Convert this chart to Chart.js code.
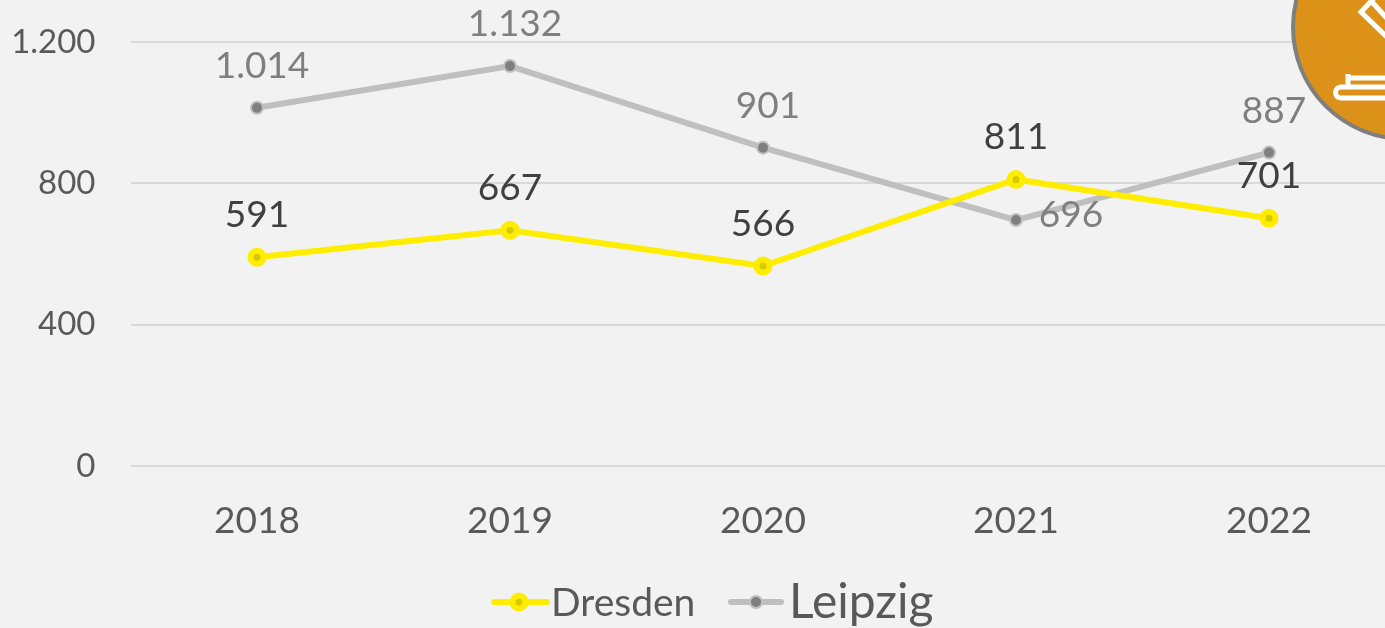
<!DOCTYPE html>
<html><head><meta charset="utf-8">
<script src="https://cdn.jsdelivr.net/npm/chart.js@4/dist/chart.umd.min.js"></script>
<style>
html,body{margin:0;padding:0;width:1385px;height:628px;overflow:hidden;background:#f2f2f2}
#wrap{position:absolute;left:0;top:0;width:1408px;height:628px}
#badge{position:absolute;left:0;top:0}
</style></head><body>
<div id="wrap"><canvas id="c" width="1408" height="628"></canvas></div>
<svg id="badge" width="1385" height="628" fill="none">
<circle cx="1405" cy="27" r="112" fill="#dc9119" stroke="#7f7f7f" stroke-width="4"/>
<g stroke="#fff" stroke-width="5" stroke-linejoin="miter">
<path d="M1378 -6 L1361 12 L1392 42"/>
<path d="M1372 2 L1392 24"/>
<path d="M1348 74 V86 M1348 78 H1395" />
<rect x="1335.5" y="87" width="70" height="11" rx="5.5"/>
</g>
</svg>
<script>
const categories = ["2018","2019","2020","2021","2022"];
const dresden = [591,667,566,811,701];
const leipzig = [1014,1132,901,696,887];
const yTicks = {0:"0",400:"400",800:"800",1200:"1.200"};
const fontName = "Lato, 'Open Sans', sans-serif";
const fmt = v => String(v).replace(/\B(?=(\d{3})+$)/g,".");

const labelPlugin = {
  id:"valueLabels",
  afterDatasetsDraw(chart){
    const ctx = chart.ctx;
    ctx.save();
    ctx.font = "37px "+fontName;
    ctx.textAlign = "center"; ctx.textBaseline = "middle";
    chart.data.datasets.forEach((ds,i)=>{
      const meta = chart.getDatasetMeta(i);
      ctx.fillStyle = i===0 ? "#404040" : "#7f7f7f";
      meta.data.forEach((p,j)=>{
        let x=p.x, y=p.y-42;
        if(i===1){ x+=5; if(j===3){x=p.x+55; y=p.y-5;} }
        ctx.fillText(fmt(ds.data[j]),x,y);
      });
    });
    ctx.restore();
  }
};
const legendPlugin = {
  id:"mixedLegend",
  afterDraw(chart){
    const ctx = chart.ctx, y = 602;
    const items = [
      {ds:0,x0:494,x1:547,cx:519,tx:551,size:39},
      {ds:1,x0:731,x1:781,cx:756,tx:789,size:48}
    ];
    ctx.save();
    items.forEach(it=>{
      const d = chart.data.datasets[it.ds];
      ctx.strokeStyle=d.borderColor; ctx.lineWidth=d.borderWidth; ctx.lineCap="round";
      ctx.beginPath(); ctx.moveTo(it.x0,y); ctx.lineTo(it.x1,y); ctx.stroke();
      ctx.fillStyle=d.pointBackgroundColor; ctx.strokeStyle=d.pointBorderColor; ctx.lineWidth=d.pointBorderWidth;
      ctx.beginPath(); ctx.arc(it.cx,y,d.pointRadius,0,Math.PI*2); ctx.fill(); ctx.stroke();
      ctx.fillStyle="#595959"; ctx.font=it.size+"px "+fontName;
      ctx.textAlign="left"; ctx.textBaseline="middle";
      ctx.fillText(d.label,it.tx,y+1);
    });
    ctx.restore();
  }
};
new Chart(document.getElementById("c"),{
  type:"line",
  data:{labels:categories,datasets:[
    {label:"Dresden",data:dresden,borderColor:"#ffed00",borderWidth:6,pointRadius:6.5,pointBorderWidth:6,pointBackgroundColor:"#d9c800",pointBorderColor:"#ffed00",tension:0,clip:false},
    {label:"Leipzig",data:leipzig,borderColor:"#bfbfbf",borderWidth:6,pointRadius:6,pointBorderWidth:2,pointBackgroundColor:"#7f7f7f",pointBorderColor:"#bfbfbf",tension:0,clip:false}
  ]},
  plugins:[{id:"bg",beforeDraw(c){c.ctx.fillStyle="#f2f2f2";c.ctx.fillRect(0,0,c.width,c.height);}},labelPlugin,legendPlugin],
  options:{
    responsive:false,animation:false,
    layout:{padding:{top:42,right:4.5,bottom:0,left:0}},
    plugins:{legend:{display:false},tooltip:{enabled:false},title:{display:false}},
    scales:{
      x:{offset:true,afterFit(s){s.height=162;},grid:{display:false},border:{display:false},
        ticks:{color:"#595959",font:{family:fontName,size:37},padding:25,maxRotation:0}},
      y:{min:0,max:1200,afterFit(s){s.width=130.5;s.paddingTop=0;s.paddingBottom=0;},
        afterBuildTicks(s){s.ticks=Object.keys(yTicks).map(v=>({value:+v}));},
        grid:{color:"#d9d9d9",lineWidth:2,drawTicks:false},border:{display:false},
        ticks:{color:"#595959",font:{family:fontName,size:33},padding:35,callback:v=>yTicks[v]}}
    }
  }
});
</script>
</body></html>
